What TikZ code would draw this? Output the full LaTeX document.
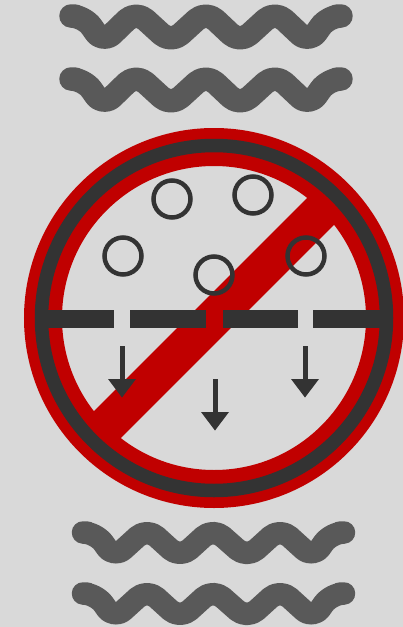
\documentclass[tikz,border=0pt]{standalone}
\definecolor{bgc}{HTML}{D9D9D9}
\definecolor{wavec}{HTML}{595959}
\definecolor{darkc}{HTML}{333333}
\definecolor{redc}{HTML}{C00000}
\tikzset{
  wave/.style={draw=wavec,line width=23.5pt,line cap=round,line join=round,rounded corners=13pt},
  redring/.style={draw=redc,line width=38pt},
  darkring/.style={draw=darkc,line width=13.5pt},
  band/.style={draw=redc,line width=38pt},
  wall/.style={fill=darkc},
  particle/.style={draw=darkc,line width=4.5pt},
  shaft/.style={draw=darkc,line width=5pt},
  head/.style={fill=darkc}
}
\newcommand{\topwave}[1]{%
  \draw[wave] (75,{#1-11}) -- (84,{#1-11}) -- (103,{#1+16}) -- (136,{#1-16})
    -- (171,{#1+16}) -- (206,{#1-16}) -- (240,{#1+16}) -- (275,{#1-16})
    -- (309,{#1+16}) -- (328,{#1-11}) -- (337,{#1-11});}
\newcommand{\botwave}[1]{%
  \draw[wave,line width=22.5pt] (87,{#1-10.5}) -- (96,{#1-10.5}) -- (114,{#1+15}) -- (147,{#1-15})
    -- (180,{#1+15}) -- (213,{#1-15}) -- (247,{#1+15}) -- (280,{#1-15})
    -- (313,{#1+15}) -- (331,{#1-10.5}) -- (340,{#1-10.5});}
\begin{document}
\begin{tikzpicture}[x=1pt,y=-1pt]
  \useasboundingbox (0,0) rectangle (403,627);
  \fill[bgc] (0,0) rectangle (403,627);
  \topwave{27}
  \topwave{90}
  \botwave{543}
  \botwave{604}
  % prohibition ring and bar
  \draw[redring] (214,318) circle [radius=171pt];
  \draw[band] (99,433) -- (329,203);
  % dark ring
  \draw[darkring] (214,318) circle [radius=172.5pt];
  % membrane
  \fill[wall] (47,310) rectangle (114,327.5);
  \fill[wall] (130,310) rectangle (206,327.5);
  \fill[wall] (223,310) rectangle (298,327.5);
  \fill[wall] (313,310) rectangle (381,327.5);
  % particles
  \draw[particle] (172,199) circle [radius=18.5pt];
  \draw[particle] (253,195) circle [radius=18.5pt];
  \draw[particle] (123,256) circle [radius=18.5pt];
  \draw[particle] (214,275) circle [radius=18.5pt];
  \draw[particle] (306,256) circle [radius=18.5pt];
  % arrows
  \foreach \ax/\ay in {122/346,215/379,305/346}{
    \draw[shaft] (\ax,\ay) -- (\ax,{\ay+34});
    \fill[head] ({\ax-14},{\ay+33}) -- ({\ax+14},{\ay+33}) -- (\ax,{\ay+51.5}) -- cycle;
  }
\end{tikzpicture}
\end{document}
